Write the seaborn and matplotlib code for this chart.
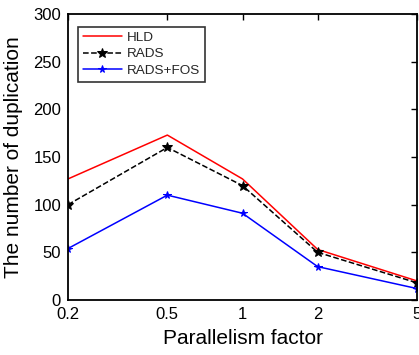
import matplotlib
matplotlib.use("Agg")
import matplotlib.pyplot as plt
import seaborn as sns
import pandas as pd

factors = [0.2, 0.5, 1, 2, 5]
hld = [127, 173, 127, 53, 20]
rads = [100, 160, 120, 50, 18]
rads_fos = [54, 110, 91, 35, 12]
xtick_labels = ["0.2", "0.5", "1", "2", "5"]

sns.set_theme(style="white")
plt.rcParams['font.family'] = ['Liberation Sans', 'DejaVu Sans']

fig = plt.figure(figsize=(4.19, 3.55), dpi=100)
ax = fig.add_axes([68/419, 55/355, 349/419, 286/355])

sns.lineplot(x=factors, y=hld, ax=ax, color="red", lw=1.1, label="HLD")
sns.lineplot(x=factors, y=rads, ax=ax, color="black", lw=1.1, linestyle="--",
             marker="*", markersize=7, markeredgecolor="black", label="RADS")
sns.lineplot(x=factors, y=rads_fos, ax=ax, color="blue", lw=1.1,
             marker="*", markersize=5.5, markeredgecolor="blue", label="RADS+FOS")

ax.set_xscale("log")
ax.set_xlim(0.2, 5)
ax.set_ylim(0, 300)
ax.set_xticks(factors)
ax.set_xticklabels(xtick_labels)
ax.minorticks_off()
ax.set_yticks([0, 50, 100, 150, 200, 250, 300])
ax.tick_params(direction="in", top=True, right=True, length=4, width=1,
               labelsize=12, colors="black", pad=5)
for s in ax.spines.values():
    s.set_color("black")
    s.set_linewidth(1.3)
ax.set_xlabel("Parallelism factor", fontsize=15, color="black", labelpad=5)
ax.set_ylabel("The number of duplication", fontsize=15, color="black", labelpad=7)

leg = ax.legend(loc="upper left", bbox_to_anchor=(0.029, 0.955), fontsize=9.7,
                frameon=True, fancybox=False, borderpad=0.35, labelspacing=0.3,
                handlelength=2.9, handletextpad=0.35, borderaxespad=0)
leg.get_frame().set_edgecolor("black")
leg.get_frame().set_linewidth(1.2)

fig.savefig("out.png", dpi=100)
